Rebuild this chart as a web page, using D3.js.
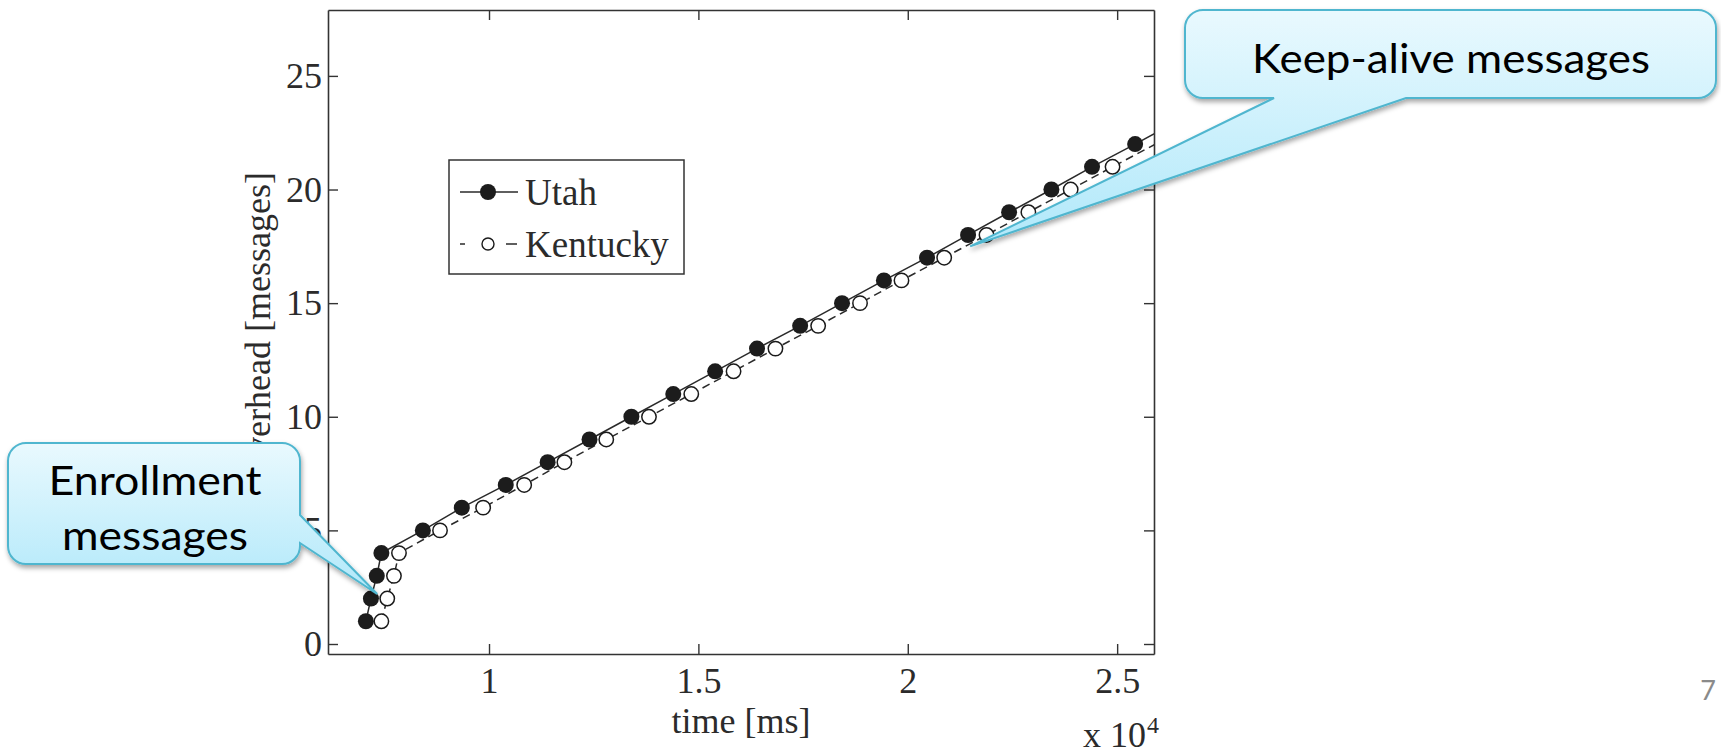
<!DOCTYPE html>
<html><head><meta charset="utf-8">
<script src="https://cdn.jsdelivr.net/npm/d3@7"></script>
<style>html,body{margin:0;padding:0;background:#fff;} svg{display:block;}</style>
</head><body>
<svg id="chart" width="1721" height="754"></svg>
<script>
// ---- data (time in ms, overhead in messages) ----
const utahTime = [7060, 7180, 7320, 7430, 8420, 9350, 10400, 11400, 12400, 13400, 14400, 15400, 16400, 17430, 18430, 19430, 20460, 21440, 22420, 23430, 24400, 25430, 26430];
const utahMsgs = [1, 2, 3, 4, 5, 6, 7, 8, 9, 10, 11, 12, 13, 14, 15, 16, 17, 18, 19, 20, 21, 22, 23];
const kentuckyTime = [7430, 7570, 7730, 7850, 8830, 9860, 10840, 11800, 12800, 13820, 14830, 15840, 16840, 17860, 18860, 19850, 20870, 21880, 22880, 23890, 24890, 25920];
const kentuckyMsgs = [1, 2, 3, 4, 5, 6, 7, 8, 9, 10, 11, 12, 13, 14, 15, 16, 17, 18, 19, 20, 21, 22];
const xTicks = [10000, 15000, 20000, 25000];
const xTickLabels = ["1", "1.5", "2", "2.5"];
const yTicks = [0, 5, 10, 15, 20, 25];
const seriesNames = ["Utah", "Kentucky"];
const xDomain = [6155, 25880];
const yDomain = [-0.44, 27.9];
// annotation targets (data coordinates)
const enrollTarget = {t: 7330, m: 2.2};
const keepTarget = {t: 21490, m: 17.5};

const svg = d3.select("#chart");
const L = 328, R = 1154, T = 10, B = 654;
const x = d3.scaleLinear().domain(xDomain).range([L, R]);
const y = d3.scaleLinear().domain(yDomain).range([B, T]);
const ink = "#2b2b2b";
const serif = "'Liberation Serif', 'Times New Roman', serif";

const defs = svg.append("defs");
defs.append("clipPath").attr("id", "plotclip").append("rect")
  .attr("x", L).attr("y", T).attr("width", R - L).attr("height", B - T);
const grad = defs.append("linearGradient").attr("id", "calloutGrad")
  .attr("x1", 0).attr("y1", 0).attr("x2", 0).attr("y2", 1);
grad.append("stop").attr("offset", "0%").attr("stop-color", "#e9f9fe");
grad.append("stop").attr("offset", "100%").attr("stop-color", "#b0e8fa");
const filt = defs.append("filter").attr("id", "shadow").attr("x", "-10%").attr("y", "-10%").attr("width", "130%").attr("height", "140%");
filt.append("feDropShadow").attr("dx", 1).attr("dy", 3).attr("stdDeviation", 2.5)
  .attr("flood-color", "#000").attr("flood-opacity", 0.35);

// y label (drawn first so the callout covers its start)
svg.append("text")
  .attr("transform", `translate(270,172) rotate(-90)`)
  .attr("text-anchor", "end")
  .attr("font-family", serif).attr("font-size", 36).attr("fill", ink)
  .text("overhead [messages]");

// axes
function styleAxis(g) {
  g.selectAll("path.domain").attr("stroke", "#333").attr("stroke-width", 1.6);
  g.selectAll(".tick line").attr("stroke", "#333").attr("stroke-width", 1.4);
  g.selectAll(".tick text").attr("font-family", serif).attr("font-size", 36).attr("fill", ink);
}
svg.append("g").attr("transform", `translate(0,${B})`)
  .call(d3.axisBottom(x).tickValues(xTicks).tickFormat((d, i) => xTickLabels[i])
    .tickSizeInner(-10).tickSizeOuter(0).tickPadding(13)).call(styleAxis);
svg.append("g").attr("transform", `translate(0,${T})`)
  .call(d3.axisTop(x).tickValues(xTicks).tickFormat("")
    .tickSizeInner(-10).tickSizeOuter(0)).call(styleAxis);
svg.append("g").attr("transform", `translate(${L},0)`)
  .call(d3.axisLeft(y).tickValues(yTicks)
    .tickSizeInner(-10).tickSizeOuter(0).tickPadding(6)).call(styleAxis);
svg.append("g").attr("transform", `translate(${R},0)`)
  .call(d3.axisRight(y).tickValues(yTicks).tickFormat("")
    .tickSizeInner(-10).tickSizeOuter(0)).call(styleAxis);

// axis label and exponent
svg.append("text").attr("x", (L + R) / 2).attr("y", 733).attr("text-anchor", "middle")
  .attr("font-family", serif).attr("font-size", 36).attr("fill", ink).text("time [ms]");
svg.append("text").attr("x", 1146).attr("y", 747).attr("text-anchor", "end")
  .attr("font-family", serif).attr("font-size", 36).attr("fill", ink).text("x 10");
svg.append("text").attr("x", 1147).attr("y", 733).attr("text-anchor", "start")
  .attr("font-family", serif).attr("font-size", 24).attr("fill", ink).text("4");

// series
const utah = utahTime.map((t, i) => ({t, m: utahMsgs[i]}));
const kentucky = kentuckyTime.map((t, i) => ({t, m: kentuckyMsgs[i]}));
const line = d3.line().x(d => x(d.t)).y(d => y(d.m));
const plot = svg.append("g").attr("clip-path", "url(#plotclip)");
plot.append("path").datum(utah).attr("d", line).attr("fill", "none")
  .attr("stroke", "#2a2a2a").attr("stroke-width", 1.5);
plot.append("path").datum(kentucky).attr("d", line).attr("fill", "none")
  .attr("stroke", "#2a2a2a").attr("stroke-width", 1.5).attr("stroke-dasharray", "8,5");
const inside = d => d.t >= xDomain[0] && d.t <= xDomain[1];
svg.append("g").selectAll("circle").data(kentucky.filter(inside)).join("circle")
  .attr("cx", d => x(d.t)).attr("cy", d => y(d.m)).attr("r", 7.2)
  .attr("fill", "#fff").attr("stroke", "#1a1a1a").attr("stroke-width", 1.5);
svg.append("g").selectAll("circle").data(utah.filter(inside)).join("circle")
  .attr("cx", d => x(d.t)).attr("cy", d => y(d.m)).attr("r", 8)
  .attr("fill", "#1c1c1c");

// legend
const lg = svg.append("g");
lg.append("rect").attr("x", 449).attr("y", 160).attr("width", 235).attr("height", 114)
  .attr("fill", "#fff").attr("stroke", "#333").attr("stroke-width", 1.5);
const rows = [192, 244];
seriesNames.forEach((name, i) => {
  const ry = rows[i];
  lg.append("line").attr("x1", 460).attr("x2", 518).attr("y1", ry).attr("y2", ry)
    .attr("stroke", "#2a2a2a").attr("stroke-width", 1.5)
    .attr("stroke-dasharray", i === 0 ? null : "5,41,11");
  if (i === 0) lg.append("circle").attr("cx", 488).attr("cy", ry).attr("r", 8).attr("fill", "#1c1c1c");
  else lg.append("circle").attr("cx", 488).attr("cy", ry).attr("r", 6).attr("fill", "#fff")
    .attr("stroke", "#1a1a1a").attr("stroke-width", 1.4);
  lg.append("text").attr("x", 525).attr("y", ry + 13).attr("font-family", serif)
    .attr("font-size", 37).attr("fill", ink).text(name);
});

// callouts
function callout(x0, y0, x1, y1, r, wedge) {
  const p = d3.path();
  p.moveTo(x0 + r, y0);
  p.lineTo(x1 - r, y0);
  p.arcTo(x1, y0, x1, y0 + r, r);
  if (wedge.side === "right") {
    p.lineTo(x1, wedge.a); p.lineTo(wedge.tx, wedge.ty); p.lineTo(x1, wedge.b);
  }
  p.lineTo(x1, y1 - r);
  p.arcTo(x1, y1, x1 - r, y1, r);
  if (wedge.side === "bottom") {
    p.lineTo(wedge.a, y1); p.lineTo(wedge.tx, wedge.ty); p.lineTo(wedge.b, y1);
  }
  p.lineTo(x0 + r, y1);
  p.arcTo(x0, y1, x0, y1 - r, r);
  p.lineTo(x0, y0 + r);
  p.arcTo(x0, y0, x0 + r, y0, r);
  p.closePath();
  return p.toString();
}
const sans = "Lato, 'Open Sans', sans-serif";
svg.append("path")
  .attr("d", callout(8, 443, 300, 564, 18, {side: "right", a: 515, b: 543, tx: x(enrollTarget.t), ty: y(enrollTarget.m)}))
  .attr("fill", "url(#calloutGrad)").attr("stroke", "#4fb6cf").attr("stroke-width", 2)
  .attr("filter", "url(#shadow)");
svg.append("text").attr("x", 155).attr("y", 495).attr("text-anchor", "middle")
  .attr("font-family", sans).attr("font-size", 41).attr("fill", "#000")
  .attr("textLength", 213).attr("lengthAdjust", "spacingAndGlyphs").text("Enrollment");
svg.append("text").attr("x", 155).attr("y", 550).attr("text-anchor", "middle")
  .attr("font-family", sans).attr("font-size", 41).attr("fill", "#000")
  .attr("textLength", 186).attr("lengthAdjust", "spacingAndGlyphs").text("messages");

svg.append("path")
  .attr("d", callout(1185, 10, 1716, 98, 18, {side: "bottom", a: 1406, b: 1274, tx: x(keepTarget.t), ty: y(keepTarget.m)}))
  .attr("fill", "url(#calloutGrad)").attr("stroke", "#4fb6cf").attr("stroke-width", 2)
  .attr("filter", "url(#shadow)");
svg.append("text").attr("x", 1451).attr("y", 73).attr("text-anchor", "middle")
  .attr("font-family", sans).attr("font-size", 41).attr("fill", "#000")
  .attr("textLength", 398).attr("lengthAdjust", "spacingAndGlyphs").text("Keep-alive messages");

// page number
svg.append("text").attr("x", 1716).attr("y", 700).attr("text-anchor", "end")
  .attr("font-family", sans).attr("font-size", 27).attr("fill", "#8a8a8a").text("7");
</script>
</body></html>
